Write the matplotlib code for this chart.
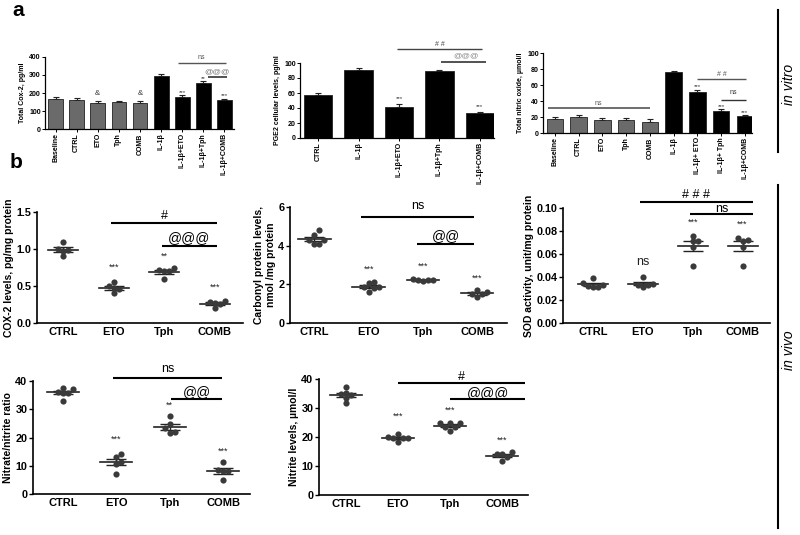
import numpy as np
import matplotlib
matplotlib.use('Agg')
import matplotlib.pyplot as plt
from matplotlib.lines import Line2D

plt.rcParams['font.family'] = ['Liberation Sans', 'DejaVu Sans']

W, H = 800, 535

# ---------------- Panel a data (in vitro) ----------------
a1_labels = ['Baseline', 'CTRL', 'ETO', 'Tph', 'COMB', 'IL-1β', 'IL-1β+ETO', 'IL-1β+Tph', 'IL-1β+COMB']
a1_vals = [165, 162, 147, 150, 146, 292, 178, 257, 160]
a1_err = [12, 8, 7, 7, 7, 12, 9, 9, 9]

a2_labels = ['CTRL', 'IL-1β', 'IL-1β+ETO', 'IL-1β+Tph', 'IL-1β+COMB']
a2_vals = [58, 91, 42, 89, 33]
a2_err = [2, 2, 3.5, 2, 2]

a3_labels = ['Baseline', 'CTRL', 'ETO', 'Tph', 'COMB', 'IL-1β', 'IL-1β+ ETO', 'IL-1β+ Tph', 'IL-1β+COMB']
a3_vals = [17, 19.5, 16, 16, 14, 76, 51, 27, 21]
a3_err = [2.5, 2.5, 3, 3, 4, 2, 2.5, 2.5, 1]

# ---------------- Panel b data (in vivo) ----------------
groups = ['CTRL', 'ETO', 'Tph', 'COMB']
cox2 = [[0.99, 1.10, 0.90, 1.00, 0.97],
        [0.46, 0.56, 0.40, 0.50, 0.47],
        [0.72, 0.70, 0.60, 0.74, 0.70],
        [0.26, 0.30, 0.20, 0.27, 0.28]]
carbonyl = [[4.3, 4.8, 4.1, 4.55, 4.1, 4.3],
            [1.85, 2.1, 1.6, 2.05, 1.85, 1.8],
            [2.3, 2.2, 2.15, 2.2, 2.25],
            [1.5, 1.7, 1.35, 1.5, 1.6]]
sod = [[0.035, 0.032, 0.039, 0.031, 0.031, 0.033],
       [0.033, 0.040, 0.031, 0.033, 0.034],
       [0.071, 0.076, 0.066, 0.050, 0.071],
       [0.071, 0.074, 0.066, 0.050, 0.072]]
nitrate_ratio = [[37.3, 35.9, 32.8, 35.8, 36.2, 37.6],
                 [11.5, 13.1, 7.2, 14.2, 10.5],
                 [23.2, 24.8, 21.6, 27.6, 22.0],
                 [8.0, 11.5, 5.0, 8.3, 8.5]]
nitrite = [[35.2, 37.2, 31.6, 34.5, 35.0, 33.4],
           [19.8, 21.0, 18.3, 20.0, 19.8, 19.8],
           [24.8, 25.0, 22.0, 24.8, 23.6, 23.5],
           [14.8, 14.0, 11.6, 14.3, 13.2]]

fig = plt.figure(figsize=(W / 100, H / 100), dpi=100)


def rect(l, r, t, b):
    return [l / W, 1 - b / H, (r - l) / W, (b - t) / H]


def style(ax, lw=1.0):
    for s in ['top', 'right']:
        ax.spines[s].set_visible(False)
    for s in ['left', 'bottom']:
        ax.spines[s].set_linewidth(lw)
        ax.spines[s].set_color('black')


def bar_panel(r, labels, vals, errs, ngrey, ylim, yticks, ylabel, xlim):
    ax = fig.add_axes(rect(*r))
    x = np.arange(len(vals))
    cols = ['#6a6a6a'] * ngrey + ['black'] * (len(vals) - ngrey)
    ax.bar(x, vals, width=0.7, color=cols, edgecolor='#222222', linewidth=0.6, zorder=2)
    ax.errorbar(x, vals, yerr=[np.zeros(len(errs)), errs], fmt='none', ecolor='#222222',
                elinewidth=0.8, capsize=2.2, capthick=0.8, zorder=1)
    ax.set_xlim(*xlim)
    ax.set_ylim(*ylim)
    ax.set_yticks(yticks)
    ax.set_xticks(x)
    ax.set_xticklabels(labels, rotation=90, fontsize=5, fontweight='bold')
    ax.tick_params(axis='y', labelsize=5, length=2, width=0.7, pad=1)
    ax.tick_params(axis='x', length=2, width=0.7, pad=1)
    for t in ax.get_yticklabels():
        t.set_fontweight('bold')
    ax.set_ylabel(ylabel, fontsize=5, fontweight='bold', labelpad=2)
    style(ax, 0.9)
    return ax


def sig(ax, x1, x2, y, txt, ty, fs, color='black', lw=1.5, tcolor=None, tx=None):
    ax.plot([x1, x2], [y, y], color=color, lw=lw, clip_on=False, solid_capstyle='butt')
    if tx is None:
        tx = (x1 + x2) / 2
    ax.text(tx, ty, txt, ha='center', va='center', fontsize=fs,
            color=tcolor if tcolor else color, clip_on=False)


# ---- a1 ----
ax = bar_panel((45, 234, 57, 129), a1_labels, a1_vals, a1_err, 5, (0, 400),
               [0, 100, 200, 300, 400], 'Total Cox-2, pg/ml', (-0.5, 8.45))
for i, t, y in [(2, '&', 195), (4, '&', 195), (6, '***', 205), (7, '**', 280), (8, '***', 185)]:
    ax.text(i, y, t, ha='center', va='center', fontsize=4.5 if '*' in t else 5.5, color='#333333')
sig(ax, 5.8, 8.05, 367, 'ns', 395, 5, color='#555555', lw=1.0)
sig(ax, 7.2, 8.1, 290, '@@@', 320, 6, color='#333333', lw=1.2, tcolor='#777777', tx=7.65)

# ---- a2 ----
ax = bar_panel((300, 494, 63, 138), a2_labels, a2_vals, a2_err, 0, (0, 100),
               [0, 20, 40, 60, 80, 100], 'PGE2 cellular levels, pg/ml', (-0.45, 4.35))
for i, y in [(2, 52), (4, 42)]:
    ax.text(i, y, '***', ha='center', va='center', fontsize=4.5, color='#333333')
sig(ax, 1.95, 4.05, 118.7, '# #', 124.5, 5, color='#444444', lw=1.0)
sig(ax, 3.05, 4.15, 101, '@@@', 110, 6, color='#333333', lw=1.2, tcolor='#888888', tx=3.65)

# ---- a3 ----
ax = bar_panel((543, 752, 53, 133), a3_labels, a3_vals, a3_err, 5, (0, 100),
               [0, 20, 40, 60, 80, 100], 'Total nitric oxide, µmol/l', (-0.5, 8.3))
for i, y in [(6, 58), (7, 33), (8, 26)]:
    ax.text(i, y, '***', ha='center', va='center', fontsize=4.5, color='#333333')
sig(ax, -0.3, 4.0, 31.8, 'ns', 37, 5, color='#555555', lw=1.2)
sig(ax, 6.0, 8.05, 68, '# #', 73.5, 5, color='#555555', lw=1.0)
sig(ax, 7.0, 8.05, 41, 'ns', 50, 5, color='#333333', lw=1.0)


# ---------------- b panels ----------------
def swarm(vals, ypx_per_unit, xpx_per_unit, d=5.5):
    placed = []
    order = np.argsort(vals)
    res = [0.0] * len(vals)
    cands = [0.0]
    for i in range(1, 12):
        cands += [i * d * 0.9, -i * d * 0.9]
    for idx in order:
        yp = vals[idx] * ypx_per_unit
        for c in cands:
            if all((c - px) ** 2 + (yp - py) ** 2 >= (d * 0.9) ** 2 for px, py in placed):
                break
        placed.append((c, yp))
        res[idx] = c / xpx_per_unit
    return res


def scatter_panel(r, data, ylim, yticks, ylabel, xlim, yfmt=None):
    ax = fig.add_axes(rect(*r))
    ax.set_xlim(*xlim)
    ax.set_ylim(*ylim)
    l, rr, t, b = r
    ypx = (b - t) / (ylim[1] - ylim[0])
    xpx = (rr - l) / (xlim[1] - xlim[0])
    for gi, vals in enumerate(data):
        vals = np.array(vals, dtype=float)
        offs = swarm(vals, ypx, xpx)
        ax.scatter(gi + np.array(offs), vals, s=20, color='#3a3a3a', zorder=3, linewidths=0)
        m = vals.mean()
        se = vals.std(ddof=1) / np.sqrt(len(vals))
        ax.plot([gi - 0.3, gi + 0.3], [m, m], color='#222222', lw=1.2, zorder=2)
        ax.errorbar([gi], [m], yerr=[se], fmt='none', ecolor='#222222', elinewidth=1.0,
                    capsize=7, capthick=1.0, zorder=2)
    ax.set_xticks(range(len(groups)))
    ax.set_xticklabels(groups, fontsize=8, fontweight='bold')
    ax.set_yticks(yticks)
    if yfmt:
        ax.set_yticklabels([yfmt.format(v) for v in yticks])
    ax.tick_params(axis='y', labelsize=7.8, length=3, width=1.0, pad=1)
    ax.tick_params(axis='x', length=0, pad=3)
    for tl in ax.get_yticklabels():
        tl.set_fontweight('bold')
    ax.set_ylabel(ylabel, fontsize=7.5, fontweight='bold', labelpad=2)
    style(ax, 1.2)
    return ax


def stars(ax, items, fs=6.5):
    for gi, y, t in items:
        ax.text(gi, y, t, ha='center', va='center', fontsize=fs, color='#222222')


# b1
ax = scatter_panel((37, 243, 212, 323), cox2, (0, 1.5), [0.0, 0.5, 1.0, 1.5],
                   'COX-2 levels, pg/mg protein', (-0.52, 3.56), '{:.1f}')
stars(ax, [(1, 0.76, '***'), (2, 0.90, '**'), (3, 0.49, '***')])
sig(ax, 0.95, 3.05, 1.35, '#', 1.45, 9)
sig(ax, 1.95, 3.05, 1.04, '@@@', 1.145, 10)

# b2
ax = scatter_panel((290, 507, 207, 323), carbonyl, (0, 6), [0, 2, 4, 6],
                   'Carbonyl protein levels,\nnmol /mg protein', (-0.45, 3.55))
stars(ax, [(1, 2.78, '***'), (2, 2.96, '***'), (3, 2.30, '***')])
sig(ax, 0.85, 2.95, 5.48, 'ns', 6.03, 9)
sig(ax, 1.9, 2.95, 4.11, '@@', 4.52, 10)

# b3
ax = scatter_panel((563, 770, 208, 323), sod, (0, 0.10), [0.0, 0.02, 0.04, 0.06, 0.08, 0.10],
                   'SOD activity, unit/mg protein', (-0.6, 3.55), '{:.2f}')
stars(ax, [(2, 0.0878, '***'), (3, 0.0860, '***')])
ax.text(1, 0.053, 'ns', ha='center', va='center', fontsize=9, color='#222222')
sig(ax, 0.95, 3.2, 0.1052, '# # #', 0.1115, 9)
sig(ax, 1.95, 3.2, 0.0950, 'ns', 0.0995, 9)

# b4
ax = scatter_panel((33, 250, 381, 494), nitrate_ratio, (0, 40), [0, 10, 20, 30, 40],
                   'Nitrate/nitrite ratio', (-0.56, 3.5))
stars(ax, [(1, 19.5, '***'), (2, 31.3, '**'), (3, 15.0, '***')])
sig(ax, 0.93, 2.98, 41.0, 'ns', 44.3, 9)
sig(ax, 2.03, 2.98, 33.5, '@@', 36.0, 10)

# b5
ax = scatter_panel((319, 528, 379, 495), nitrite, (0, 40), [0, 10, 20, 30, 40],
                   'Nitrite levels, µmol/l', (-0.52, 3.5))
stars(ax, [(1, 27.1, '***'), (2, 29.2, '***'), (3, 18.8, '***')])
sig(ax, 1.0, 3.45, 38.6, '#', 40.8, 9)
sig(ax, 2.0, 3.45, 33.1, '@@@', 35.3, 10)

# ---------------- Panel letters and side labels ----------------
fig.text(12 / W, 1 - 10 / H, 'a', fontsize=15, fontweight='bold', ha='left', va='center')
fig.text(10 / W, 1 - 163 / H, 'b', fontsize=15, fontweight='bold', ha='left', va='center')

fig.add_artist(Line2D([778 / W, 778 / W], [1 - 10 / H, 1 - 152 / H], color='black', lw=1.5))
fig.add_artist(Line2D([778 / W, 778 / W], [1 - 185 / H, 1 - 528 / H], color='black', lw=1.5))
fig.text(789 / W, 1 - 84 / H, 'in vitro', rotation=90, fontsize=10, style='italic',
         ha='center', va='center')
fig.text(789 / W, 1 - 350 / H, 'in vivo', rotation=90, fontsize=10, style='italic',
         ha='center', va='center')

fig.savefig('out.png', dpi=100)
